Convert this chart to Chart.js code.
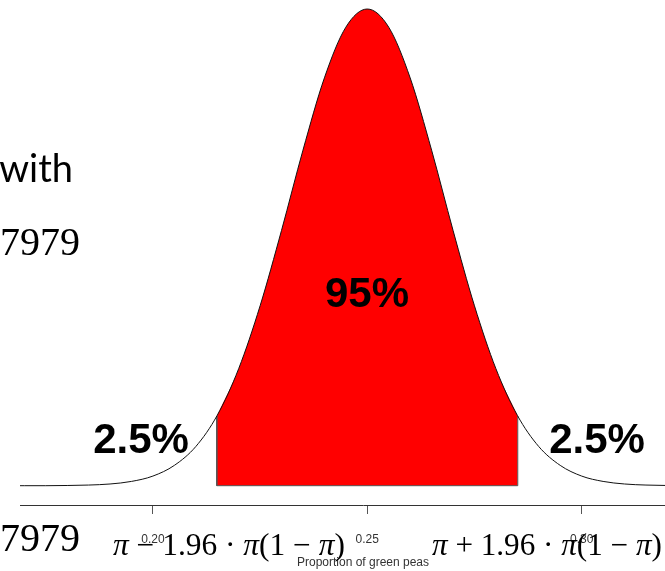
<!DOCTYPE html>
<html>
<head>
<meta charset="utf-8">
<script src="https://cdn.jsdelivr.net/npm/chart.js@4.4.1/dist/chart.umd.min.js"></script>
<style>
  html, body { margin: 0; padding: 0; background: #fff; overflow: hidden; width: 665px; height: 571px; }
  #wrap { width: 710px; height: 571px; }
</style>
</head>
<body>
<div id="wrap"><canvas id="chart" width="710" height="571"></canvas></div>
<script>
// density curve (proportion -> height)
const curveX = [0.165, 0.17, 0.175, 0.18, 0.185, 0.19, 0.195, 0.2, 0.205, 0.21, 0.215, 0.22, 0.225, 0.23, 0.235, 0.24, 0.245,
  0.25, 0.255, 0.26, 0.265, 0.27, 0.275, 0.28, 0.285, 0.29, 0.295, 0.3, 0.305, 0.31, 0.315, 0.32, 0.325, 0.33, 0.335];
const curveY = [0, 0, 0, 0.01, 0.03, 0.08, 0.2, 0.45, 0.95, 1.83, 3.29, 5.47, 8.41, 11.94, 15.69, 19.07, 21.44,
  22.29, 21.44, 19.07, 15.69, 11.94, 8.41, 5.47, 3.29, 1.83, 0.95, 0.45, 0.2, 0.08, 0.03, 0.01, 0, 0, 0];

// shaded middle 95%
const shadeX = [0.2149, 0.22, 0.225, 0.23, 0.235, 0.24, 0.245, 0.25, 0.255, 0.26, 0.265, 0.27, 0.275, 0.28, 0.2851];
const shadeY = [3.26, 5.47, 8.41, 11.94, 15.69, 19.07, 21.44, 22.29, 21.44, 19.07, 15.69, 11.94, 8.41, 5.47, 3.26];
const edgeX = [0.2149, 0.2149, 0.2851, 0.2851];
const edgeY = [3.26, 0, 0, 3.26];

const tickValues = [0.20, 0.25, 0.30];
const axisTitle = "Proportion of green peas";
const areaLabels = ["2.5%", "95%", "2.5%"];
const sideTexts = ["with", "7979", "7979"];

function pts(xs, ys) {
  return xs.map(function(x, i) { return { x: x, y: ys[i] }; });
}

// overlay texts (slide text around the chart)
const overlay = {
  id: "overlay",
  afterDraw: function(chart) {
    const ctx = chart.ctx;
    ctx.save();
    ctx.fillStyle = "#000";
    ctx.textBaseline = "alphabetic";

    ctx.font = "bold 42px 'Liberation Sans', Arial, sans-serif";
    ctx.textAlign = "center";
    ctx.fillText(areaLabels[0], 141, 453);
    ctx.fillText(areaLabels[1], 367, 307);
    ctx.fillText(areaLabels[2], 597, 453);

    ctx.textAlign = "right";
    ctx.font = "38px Lato, 'Open Sans', sans-serif";
    ctx.fillText(sideTexts[0], 73, 182);
    ctx.font = "40px 'Liberation Serif', serif";
    ctx.fillText(sideTexts[1], 80, 255);
    ctx.fillText(sideTexts[2], 80, 551);

    drawFormula(ctx, "\u2212", 113, 555, 232);
    drawFormula(ctx, "+", 432, 555, 230);
    ctx.restore();
  }
};

function drawFormula(ctx, op, x0, base, targetW) {
  const sp = "\u2005";
  const runs = [
    ["\u03c0", true], [sp + op + sp + "1.96" + sp + "\u00b7" + sp, false], ["\u03c0", true],
    ["(1" + sp + "\u2212" + sp, false], ["\u03c0", true], [")", false]
  ];
  function font(it, size) { return (it ? "italic " : "") + size + "px 'Liberation Serif', serif"; }
  let w = 0;
  runs.forEach(function(r) { ctx.font = font(r[1], 32); w += ctx.measureText(r[0]).width; });
  const size = 32 * targetW / w;
  let x = x0;
  ctx.textAlign = "left";
  runs.forEach(function(r) {
    ctx.font = font(r[1], size);
    ctx.fillText(r[0], x, base);
    x += ctx.measureText(r[0]).width;
  });
}

new Chart(document.getElementById("chart"), {
  type: "line",
  data: {
    datasets: [
      {
        data: pts(curveX, curveY),
        borderColor: "#111",
        borderWidth: 1,
        pointRadius: 0,
        fill: false,
        cubicInterpolationMode: "monotone",
        order: 0
      },
      {
        data: pts(edgeX, edgeY),
        borderColor: "#555",
        borderWidth: 1,
        pointRadius: 0,
        fill: false,
        tension: 0,
        order: 1
      },
      {
        data: pts(shadeX, shadeY),
        borderWidth: 0,
        borderColor: "rgba(0,0,0,0)",
        backgroundColor: "#ff0000",
        pointRadius: 0,
        fill: "origin",
        cubicInterpolationMode: "monotone",
        order: 2
      }
    ]
  },
  options: {
    responsive: false,
    animation: false,
    layout: { padding: { left: 20, right: 4, top: 0, bottom: 0 } },
    plugins: { legend: { display: false }, tooltip: { enabled: false } },
    scales: {
      x: {
        type: "linear",
        min: 0.169,
        max: 0.329,
        afterBuildTicks: function(s) { s.ticks = tickValues.map(function(v) { return { value: v }; }); },
        afterFit: function(s) { s.height = 66; },
        ticks: {
          callback: function(v) { return v.toFixed(2); },
          font: { family: "'Liberation Sans', Arial, sans-serif", size: 12 },
          color: "#333",
          padding: 18,
          maxRotation: 0,
          autoSkip: false
        },
        grid: { drawOnChartArea: false, tickLength: 9, color: "#555" },
        border: { color: "#333", width: 1 },
        title: {
          display: true,
          text: axisTitle,
          font: { family: "'Liberation Sans', Arial, sans-serif", size: 12 },
          color: "#333",
          padding: { top: 0, bottom: 1 }
        }
      },
      y: { display: false, min: -0.9025, max: 22.711 }
    }
  },
  plugins: [overlay]
});
</script>
</body>
</html>
